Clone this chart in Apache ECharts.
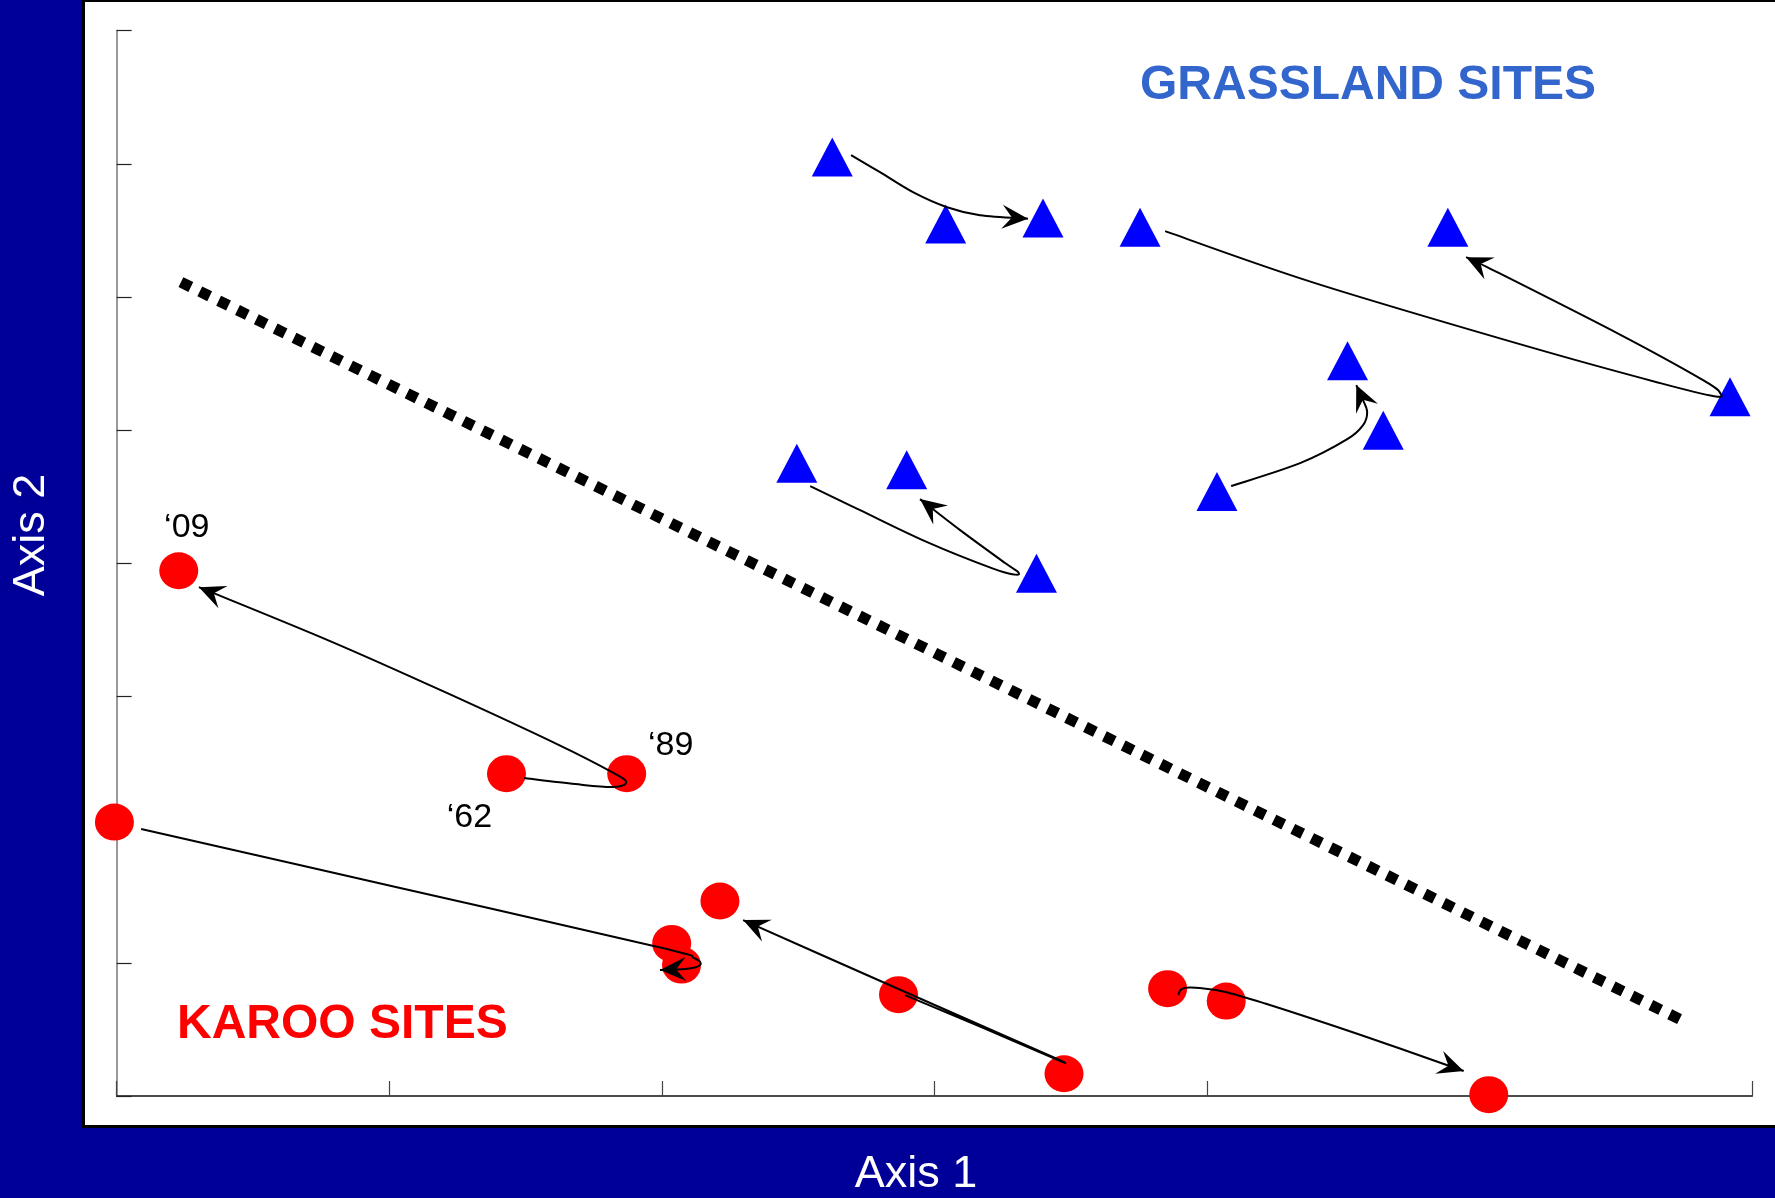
<!DOCTYPE html>
<html>
<head>
<meta charset="utf-8">
<title>Site trajectories on ordination axes</title>
<script src="https://cdn.jsdelivr.net/npm/echarts@6/dist/echarts.min.js"></script>
<style>
  html, body { margin: 0; padding: 0; background: #000099; }
  #chart { width: 1775px; height: 1198px; }
</style>
</head>
<body>
<div id="chart"></div>
<script>
// Ordination scores (Axis 1, Axis 2) for each survey of each site
const grasslandSites = [
  [2.625, 7.050], [3.041, 6.547], [3.398, 6.592],
  [3.754, 6.524], [4.883, 6.524], [5.918, 5.250],
  [4.515, 5.520], [4.646, 5.000], [4.036, 4.540],
  [2.495, 4.752], [2.898, 4.703], [3.374, 3.926]
];
const karooSites = [
  [0.228, 3.944], [1.430, 2.420], [1.871, 2.420],
  [-0.008, 2.057], [2.036, 1.146], [2.072, 0.983],
  [2.213, 1.464], [2.868, 0.761], [3.475, 0.167],
  [3.855, 0.806], [4.070, 0.713], [5.033, 0.010]
];
// Survey years written beside the first Karoo site
const karooYearLabels = ['\u201809', '\u201862', '\u201889', '', '', '', '', '', '', '', '', ''];

// Change through time of each site: '62 -> '89 -> '09, traced as a smooth path
const trajectories = [
  // Karoo
  [[1.494, 2.387], [1.682, 2.342], [1.821, 2.320], [1.869, 2.357], [1.817, 2.432], [1.623, 2.635], [1.201, 3.036], [0.783, 3.416], [0.302, 3.821]],
  [[0.090, 2.005], [1.040, 1.562], [1.986, 1.119], [2.118, 1.036], [2.140, 0.983], [2.085, 0.953], [1.993, 0.946]],
  [[2.892, 0.758], [3.178, 0.511], [3.453, 0.270], [3.468, 0.259], [3.446, 0.282], [3.167, 0.533], [2.727, 0.931], [2.298, 1.321]],
  [[3.894, 0.758], [3.905, 0.800], [3.941, 0.815], [4.059, 0.785], [4.213, 0.694], [4.569, 0.454], [4.941, 0.188]],
  // Grassland
  [[2.694, 7.065], [2.800, 6.937], [2.921, 6.787], [3.046, 6.674], [3.167, 6.614], [3.343, 6.588]],
  [[3.846, 6.494], [4.396, 6.104], [5.185, 5.623], [5.662, 5.353], [5.860, 5.255], [5.882, 5.278], [5.819, 5.375], [5.504, 5.728], [5.027, 6.224], [4.950, 6.299]],
  [[4.088, 4.580], [4.341, 4.752], [4.514, 4.932], [4.572, 5.038], [4.587, 5.135], [4.572, 5.225], [4.547, 5.338]],
  [[2.544, 4.580], [2.727, 4.399], [2.973, 4.159], [3.215, 3.960], [3.296, 3.915], [3.307, 3.934], [3.259, 4.002], [3.094, 4.249], [2.947, 4.482]]
];

// Dividing line between the two vegetation groups
const separatorLine = [[0.236, 6.111], [5.747, 0.563]];

// Axis tick positions
const xTickValues = [0, 1, 2, 3, 4, 6];
const yTickInterval = 1;

const FONT = '"Liberation Sans", Arial, Helvetica, sans-serif';

// Placement of the year labels relative to their marker
const yearLabelOffsets = {
  '\u201809': [8, -43],
  '\u201862': [-37, 44],
  '\u201889': [44, -28]
};

function renderTrajectory(params, api) {
  const pts = trajectories[api.value(2)].map(p => api.coord(p));
  const n = pts.length;
  let d = 'M' + pts[0][0] + ',' + pts[0][1];
  let lastCp = pts[0];
  for (let i = 0; i < n - 1; i++) {
    const p0 = pts[Math.max(i - 1, 0)];
    const p1 = pts[i];
    const p2 = pts[i + 1];
    const p3 = pts[Math.min(i + 2, n - 1)];
    const c1 = [p1[0] + (p2[0] - p0[0]) / 6, p1[1] + (p2[1] - p0[1]) / 6];
    const c2 = [p2[0] - (p3[0] - p1[0]) / 6, p2[1] - (p3[1] - p1[1]) / 6];
    d += ' C' + c1[0] + ',' + c1[1] + ' ' + c2[0] + ',' + c2[1] + ' ' + p2[0] + ',' + p2[1];
    lastCp = c2;
  }
  const tip = pts[n - 1];
  let dx = tip[0] - lastCp[0], dy = tip[1] - lastCp[1];
  const len = Math.sqrt(dx * dx + dy * dy) || 1;
  dx /= len; dy /= len;
  const L = 26, W = 12;
  const nx = -dy, ny = dx;
  const head = [
    tip,
    [tip[0] - dx * L + nx * W, tip[1] - dy * L + ny * W],
    [tip[0] - dx * L * 0.62, tip[1] - dy * L * 0.62],
    [tip[0] - dx * L - nx * W, tip[1] - dy * L - ny * W]
  ];
  return {
    type: 'group',
    children: [
      { type: 'path', shape: { pathData: d }, style: { fill: 'none', stroke: '#000', lineWidth: 2 } },
      { type: 'polygon', shape: { points: head }, style: { fill: '#000' } }
    ]
  };
}

const chart = echarts.init(document.getElementById('chart'), null, { renderer: 'canvas' });

chart.setOption({
  animation: false,
  backgroundColor: '#000099',
  graphic: [
    {
      type: 'rect', z: -10,
      shape: { x: 83.5, y: 0.5, width: 1700, height: 1126 },
      style: { fill: '#ffffff', stroke: '#000000', lineWidth: 3 }
    },
    {
      type: 'text', x: 1140, y: 86,
      style: { text: 'GRASSLAND SITES', font: 'bold 48px ' + FONT, fill: '#3366CC',
               align: 'left', verticalAlign: 'middle', textAlign: 'left', textVerticalAlign: 'middle' }
    },
    {
      type: 'text', x: 177, y: 1025,
      style: { text: 'KAROO SITES', font: 'bold 48px ' + FONT, fill: '#FF0000',
               align: 'left', verticalAlign: 'middle', textAlign: 'left', textVerticalAlign: 'middle' }
    },
    {
      type: 'text', x: 916, y: 1175,
      style: { text: 'Axis 1', font: '45px ' + FONT, fill: '#ffffff',
               align: 'center', verticalAlign: 'middle', textAlign: 'center', textVerticalAlign: 'middle' }
    },
    {
      type: 'text', x: 32, y: 535, rotation: Math.PI / 2,
      style: { text: 'Axis 2', font: '45px ' + FONT, fill: '#ffffff',
               align: 'center', verticalAlign: 'middle', textAlign: 'center', textVerticalAlign: 'middle' }
    }
  ],
  grid: { left: 116.6, right: 22.6, top: 30.6, bottom: 102, containLabel: false },
  xAxis: {
    type: 'value', min: 0, max: 6, interval: 1,
    axisLine: { show: true, onZero: false, lineStyle: { color: '#111', width: 1.5 } },
    axisTick: { show: true, inside: true, length: 15, customValues: xTickValues, lineStyle: { color: '#444', width: 1.2 } },
    axisLabel: { show: false },
    splitLine: { show: false }
  },
  yAxis: {
    type: 'value', min: 0, max: 8, interval: yTickInterval,
    axisLine: { show: true, onZero: false, lineStyle: { color: '#777', width: 1.5 } },
    axisTick: { show: true, inside: true, length: 15, lineStyle: { color: '#222', width: 1.2 } },
    axisLabel: { show: false },
    splitLine: { show: false }
  },
  series: [
    {
      name: 'Grassland', type: 'scatter', z: 2, clip: false,
      symbol: 'triangle', symbolSize: [41, 39],
      itemStyle: { color: '#0000FF', opacity: 1 },
      data: grasslandSites
    },
    {
      name: 'Karoo', type: 'scatter', z: 2, clip: false,
      symbol: 'path://M0,10 A10,10 0 1,1 20,10 A10,10 0 1,1 0,10 Z', symbolKeepAspect: false,
      symbolSize: [39, 37],
      itemStyle: { color: '#FF0000', opacity: 1 },
      data: karooSites.map((p, i) => {
        const t = karooYearLabels[i];
        if (!t) return p;
        return {
          value: p,
          label: {
            show: true, formatter: t, position: 'inside', offset: yearLabelOffsets[t],
            color: '#000', fontSize: 34, fontFamily: FONT, align: 'center', verticalAlign: 'middle'
          }
        };
      })
    },
    {
      name: 'Separator', type: 'line', z: 3, symbol: 'none',
      lineStyle: { color: '#000', width: 11, type: [11, 10], cap: 'butt' },
      data: separatorLine
    },
    {
      name: 'Trajectories', type: 'custom', z: 4,
      renderItem: renderTrajectory,
      encode: { x: 0, y: 1 },
      data: trajectories.map((t, i) => [t[0][0], t[0][1], i])
    }
  ]
});
</script>
</body>
</html>
